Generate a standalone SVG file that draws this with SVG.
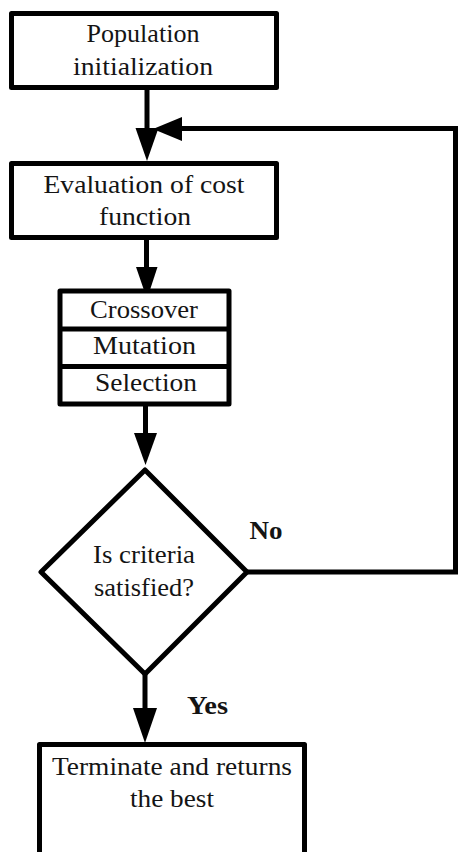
<svg xmlns="http://www.w3.org/2000/svg" width="458" height="852" viewBox="0 0 458 852">
<style>
.box{fill:#fff;stroke:#000;stroke-width:5;stroke-linejoin:round}
.div{stroke:#000;stroke-width:5}
.t{font-family:'Liberation Serif','Times New Roman',Times,serif;font-size:25px;fill:#141414;text-anchor:middle}
.b{font-weight:bold}
.ln{fill:none;stroke:#000;stroke-width:5}
.ah{fill:#000;stroke:none}
</style>
<rect width="458" height="852" fill="#fff"/>
<g id="connectors">
<line class="ln" x1="147" y1="88" x2="147" y2="140"/>
<polygon class="ah" points="135.5,128 158.5,128 147,161"/>
<polyline class="ln" points="247,572 455.5,572 455.5,128.5 175,128.5" stroke-linejoin="miter"/>
<polygon class="ah" points="182,117 182,141 153,129"/>
<line class="ln" x1="146.5" y1="238" x2="146.5" y2="275"/>
<polygon class="ah" points="136,267 157.5,267 147,299"/>
<line class="ln" x1="145.5" y1="404" x2="145.5" y2="440"/>
<polygon class="ah" points="134,433 157,433 145.5,465"/>
<line class="ln" x1="145" y1="674" x2="145" y2="715"/>
<polygon class="ah" points="133,708 157,708 145,743"/>
<text class="t b" x="266" y="539" textLength="33" lengthAdjust="spacingAndGlyphs">No</text>
<text class="t b" x="207.5" y="714" textLength="41" lengthAdjust="spacingAndGlyphs">Yes</text>
</g>
<g id="init">
<rect class="box" x="11.5" y="13.5" width="265" height="74"/>
<text class="t" x="143" y="42" textLength="113" lengthAdjust="spacingAndGlyphs">Population</text>
<text class="t" x="143" y="75" textLength="140" lengthAdjust="spacingAndGlyphs">initialization</text>
</g>
<g id="eval">
<rect class="box" x="11.5" y="163.5" width="265" height="74"/>
<text class="t" x="144" y="193" textLength="201" lengthAdjust="spacingAndGlyphs">Evaluation of cost</text>
<text class="t" x="145" y="225" textLength="92" lengthAdjust="spacingAndGlyphs">function</text>
</g>
<g id="operators">
<rect class="box" x="60" y="291" width="169" height="113"/>
<line class="div" x1="60" y1="329" x2="229" y2="329"/>
<line class="div" x1="60" y1="366.5" x2="229" y2="366.5"/>
<text class="t" x="144" y="318" textLength="108" lengthAdjust="spacingAndGlyphs">Crossover</text>
<text class="t" x="144.5" y="354" textLength="103" lengthAdjust="spacingAndGlyphs">Mutation</text>
<text class="t" x="146" y="391" textLength="102" lengthAdjust="spacingAndGlyphs">Selection</text>
</g>
<g id="decision">
<polygon class="box" points="145,470 247,572 145,674 41,572" stroke-linejoin="miter"/>
<text class="t" x="144" y="563" textLength="102" lengthAdjust="spacingAndGlyphs">Is criteria</text>
<text class="t" x="144" y="596" textLength="100" lengthAdjust="spacingAndGlyphs">satisfied?</text>
</g>
<g id="terminate">
<rect class="box" x="39.5" y="744.5" width="265" height="130"/>
<text class="t" x="172" y="775" textLength="240" lengthAdjust="spacingAndGlyphs">Terminate and returns</text>
<text class="t" x="172" y="807" textLength="84" lengthAdjust="spacingAndGlyphs">the best</text>
</g>
</svg>
